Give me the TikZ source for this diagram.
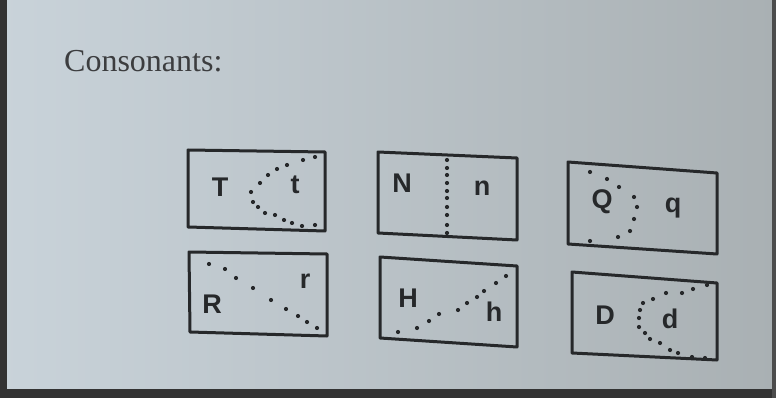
\documentclass[tikz,border=0pt]{standalone}
\usepackage{fontspec}
\setmainfont{Liberation Serif}
\newfontfamily\lettersf{Liberation Sans}
\begin{document}
\begin{tikzpicture}[x=1pt,y=-1pt,
  boxline/.style={draw=ink,line width=3pt,line join=round},
  dotmark/.style={fill=ink,draw=none},
  letter/.style={text=ink,font=\lettersf\bfseries\fontsize{27}{27}\selectfont,inner sep=0pt},
  title/.style={text=ink!90,font=\fontsize{32}{32}\selectfont,inner sep=0pt,anchor=west}]
\definecolor{ink}{HTML}{26282A}
\definecolor{pageleft}{HTML}{C9D3DA}
\definecolor{pageright}{HTML}{A9B0B3}
\useasboundingbox (0,0) rectangle (776,398);
\shade[left color=pageleft,right color=pageright] (0,0) rectangle (776,398);
\fill[black!80] (0,0) rectangle (7,398);
\fill[black!80] (0,389) rectangle (776,398);
\fill[black!70] (772,0) rectangle (776,398);
\node[title] (ttl) at (64,61) {Consonants:};
\newcommand{\dotsat}[1]{\foreach \p in {#1} {\fill[dotmark] \p circle (2.1);}}
% Box T
\draw[boxline] (188,150) -- (325,152) -- (325,231) -- (188,227) -- cycle;
\node[letter] (T) at (220,187) {T};
\node[letter] (t) at (295,185) {t};
\dotsat{(315,157),(303,160),(287,165),(277,169),(268,175),(260,183),(251,192),(253,202),(258,207),(265,213),(275,215),(284,220),(292,223),(302,226),(315,225)}
% Box N
\draw[boxline] (378,152) -- (517,158) -- (517,240) -- (378,233) -- cycle;
\node[letter] (N) at (402,183) {N};
\node[letter] (n) at (482,188) {n};
\dotsat{(447,160),(447,168),(447,175),(447,183),(447,191),(447,198),(447,207),(447,215),(447,225),(447,233)}
% Box Q
\draw[boxline] (568,162) -- (717,173) -- (717,254) -- (568,244) -- cycle;
\node[letter] (Q) at (602,202) {Q};
\node[letter] (q) at (673,208) {q};
\dotsat{(590,172),(607,179),(619,187),(634,197),(637,207),(634,219),(630,231),(618,237),(590,241)}
% Box R
\draw[boxline] (189,252) -- (327,254) -- (327,336) -- (190,332) -- cycle;
\node[letter] (R) at (212,304) {R};
\node[letter] (r) at (305,281) {r};
\dotsat{(209,264),(225,269),(236,278),(253,288),(271,300),(286,309),(298,316),(307,322),(317,328)}
% Box H
\draw[boxline] (380,257) -- (517,266) -- (517,347) -- (380,338) -- cycle;
\node[letter] (H) at (408,298) {H};
\node[letter] (h) at (494,312) {h};
\dotsat{(398,332),(417,328),(429,321),(439,314),(458,310),(467,303),(477,297),(484,291),(496,283),(506,276)}
% Box D
\draw[boxline] (572,272) -- (717,283) -- (717,360) -- (572,353) -- cycle;
\node[letter] (D) at (605,315) {D};
\node[letter] (d) at (670,319) {d};
\dotsat{(707,285),(693,289),(682,293),(666,293),(653,299),(643,303),(640,310),(639,318),(639,327),(645,333),(650,339),(660,343),(670,350),(678,353),(692,357),(705,358)}
\end{tikzpicture}
\end{document}
